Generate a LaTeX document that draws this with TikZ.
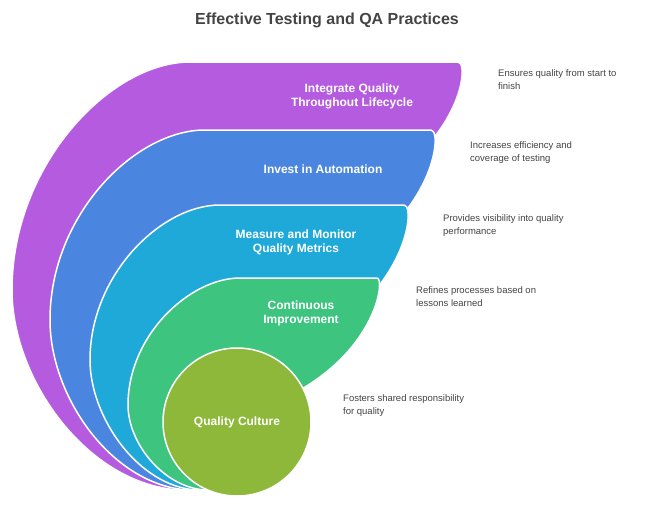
\documentclass[tikz,border=0pt]{standalone}
\usepackage{fontspec}
\setmainfont{Liberation Sans}
\definecolor{cpur}{HTML}{B55BE0}
\definecolor{cblu}{HTML}{4A86E0}
\definecolor{ccya}{HTML}{1EA9D8}
\definecolor{cgre}{HTML}{3DC47E}
\definecolor{coli}{HTML}{8DB83A}
\definecolor{ctxt}{HTML}{444444}
\begin{document}
\begin{tikzpicture}[x=1pt,y=-1pt,
  band/.style={draw=white,line width=1.5pt},
  lab/.style={text=white,font=\bfseries\fontsize{12}{14}\selectfont,align=center},
  desc/.style={text=ctxt,font=\fontsize{9.5}{13.5}\selectfont,align=left,anchor=north west,inner sep=0pt}]
\useasboundingbox (0,0) rectangle (654,512);
\node[font=\bfseries\fontsize{16}{19}\selectfont,text=ctxt] (title) at (327,20) {Effective Testing and QA Practices};
% purple
\path[band,fill=cpur] (180,490) .. controls (88,485) and (12,380) .. (12,290)
  .. controls (12,165) and (110,62) .. (190,62) -- (458,62)
  .. controls (466,62) and (465,100) .. (432,140) -- (237,422) -- cycle;
% blue
\path[band,fill=cblu] (188,490) .. controls (112,485) and (50,397) .. (50,320)
  .. controls (50,215) and (135,130) .. (205,130) -- (431,130)
  .. controls (439,130) and (438,170) .. (405,212) -- (237,422) -- cycle;
% cyan
\path[band,fill=ccya] (196,490) .. controls (138,486) and (90,417) .. (90,360)
  .. controls (90,275) and (161,205) .. (220,205) -- (404,205)
  .. controls (412,205) and (411,245) .. (378,287) -- (237,422) -- cycle;
% green
\path[band,fill=cgre] (205,490) .. controls (163,487) and (128,443) .. (128,405)
  .. controls (128,335) and (190,278) .. (240,278) -- (377,278)
  .. controls (385,278) and (378,345) .. (300,390) -- (237,422) -- cycle;
% olive circle
\node[circle,fill=coli,draw=white,line width=1.5pt,minimum size=148pt,inner sep=0pt] (c) at (237,422) {};
\node[lab] (l1) at (352,96) {Integrate Quality\\Throughout Lifecycle};
\node[lab] (l2) at (323,169) {Invest in Automation};
\node[lab] (l3) at (296,242) {Measure and Monitor\\Quality Metrics};
\node[lab] (l4) at (301,313) {Continuous\\Improvement};
\node[lab] (l5) at (237,422) {Quality Culture};
\node[desc] (d1) at (498,69) {Ensures quality from start to\\finish};
\node[desc] (d2) at (470,141) {Increases efficiency and\\coverage of testing};
\node[desc] (d3) at (443,214) {Provides visibility into quality\\performance};
\node[desc] (d4) at (416,286) {Refines processes based on\\lessons learned};
\node[desc] (d5) at (343,394) {Fosters shared responsibility\\for quality};
\end{tikzpicture}
\end{document}
